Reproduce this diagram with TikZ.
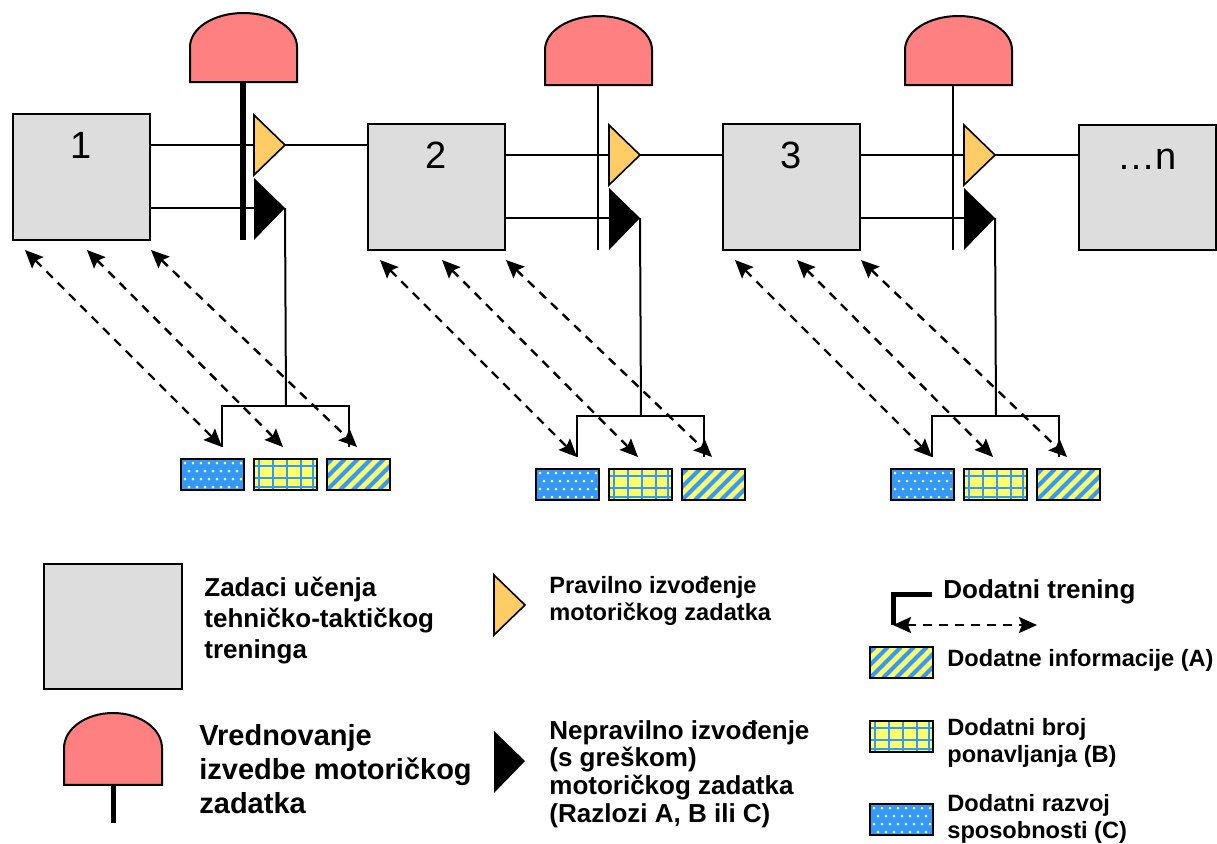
\documentclass[tikz,border=0pt]{standalone}
\usepackage{fontspec}
\setmainfont{Liberation Sans}
\usetikzlibrary{positioning,arrows.meta}

\definecolor{taskgray}{RGB}{221,221,221}
\definecolor{evalred}{RGB}{255,128,128}
\definecolor{okorange}{RGB}{255,204,102}
\definecolor{patblue}{RGB}{51,153,255}
\definecolor{patyellow}{RGB}{255,255,102}

\tikzset{
  task/.style={draw, line width=1.2pt, fill=taskgray, minimum width=68.5pt,
    minimum height=63pt, inner sep=0pt},
  tasklabel/.style={anchor=base, yshift=-23pt, font=\fontsize{19}{22}\selectfont},
  link/.style={line width=1pt},
  retry/.style={line width=1.2pt, dash pattern=on 4.5pt off 3.5pt,
    {Stealth[length=9pt,width=8pt,inset=1.5pt]}-{Stealth[length=9pt,width=8pt,inset=1.5pt]}},
  legtext/.style={anchor=base west, align=left, inner sep=0pt},
  pics/dome/.style={code={
    \filldraw[fill=evalred, line width=1pt] (0,69) -- (0,34)
      .. controls (0,15) and (24,0) .. (53.5,0)
      .. controls (83,0) and (107,15) .. (107,34) -- (107,69) -- cycle;
  }},
  pics/okmark/.style={code={
    \filldraw[fill=okorange, line width=0.8pt] (0,0) -- (31,30) -- (0,60) -- cycle;
  }},
  pics/badmark/.style={code={
    \fill (0,0) -- (31,30) -- (0,62) -- cycle;
  }},
  pics/dotcell/.style={code={
    \fill[patblue] (0,0) rectangle (63,31);
    \begin{scope}
      \clip (0,0) rectangle (63,31);
      \foreach \i in {0,...,7}
        \foreach \j in {0,...,3}
          \fill[patyellow] ({4+8*\i+4*mod(\j,2)},{4+8*\j}) circle (0.75pt);
    \end{scope}
    \draw[line width=1.2pt] (0,0) rectangle (63,31);
  }},
  pics/gridcell/.style={code={
    \fill[patyellow] (0,0) rectangle (63,31);
    \foreach \gx in {5,19,33,47,59}
      \draw[patblue, line width=1pt] (\gx,0) -- (\gx,31);
    \foreach \gy in {7,19,28}
      \draw[patblue, line width=1pt] (0,\gy) -- (63,\gy);
    \draw[line width=1.2pt] (0,0) rectangle (63,31);
  }},
  pics/stripecell/.style={code={
    \fill[patyellow] (0,0) rectangle (63,31);
    \begin{scope}
      \clip (0,0) rectangle (63,31);
      \foreach \k in {-39,-26,...,72}
        \draw[patblue, line width=2.1pt] (\k,31) -- (\k+31,0);
    \end{scope}
    \draw[line width=1.2pt] (0,0) rectangle (63,31);
  }},
}

\begin{document}
\begin{tikzpicture}[x=0.5pt, y=-0.5pt]
\useasboundingbox (0,0) rectangle (1217,843);

% task modules
\foreach \m/\dx/\dy/\sw in {1/0/0/3pt, 2/355/10/1pt, 3/710/10/1pt}{
  \begin{scope}[shift={(\dx,\dy)}]
    \node[task, label={[tasklabel]north:\m}] (box\m) at (81.5,177) {};
    \coordinate (okin\m) at (254,145);
    \coordinate (ok\m) at (285,145);
    \coordinate (badin\m) at (254,208);
    \coordinate (bad\m) at (285,208);
    \coordinate (fork\m) at (286,406);
    \coordinate (dropA\m) at (222,447);
    \coordinate (dropC\m) at (349,447);
    \draw[link] (box\m.east |- okin\m) -- (okin\m);
    \draw[link] (box\m.east |- badin\m) -- (badin\m);
    \draw[line width=\sw] (243,60) -- (243,240);
    \pic at (254,115) {okmark};
    \pic at (254,178) {badmark};
    \draw[link] (bad\m) -- (fork\m);
    \draw[link] (dropA\m) |- (fork\m) -| (dropC\m);
    % extra training
    \foreach \sx/\ex in {25/222, 87/283, 151/357}
      \draw[retry] (\sx,250) -- (\ex,447);
    \pic at (181,459) {dotcell};
    \pic at (254,459) {gridcell};
    \pic at (327,459) {stripecell};
  \end{scope}
}

\node[task, minimum height=62.5pt, label={[tasklabel]north:…n}] (boxn) at (1147.5,187.5) {};

\draw[link] (ok1) -- (ok1 -| box2.west);
\draw[link] (ok2) -- (ok2 -| box3.west);
\draw[link] (ok3) -- (ok3 -| boxn.west);

% evaluation
\pic at (190,13) {dome};
\pic at (545,16) {dome};
\pic at (905,16) {dome};

% legend
\node[task, minimum height=62.5pt, minimum width=69pt] (legtask) at (113,626.5) {};
\node[legtext, font=\bfseries\fontsize{13}{15.5}\selectfont] (legtasktxt) at (204,658)
  {Zadaci učenja\\tehničko-taktičkog\\treninga};

\draw[line width=2.5pt] (113,760) -- (113,823);
\pic[xscale=0.916, yscale=1.04] at (64,713) {dome};
\node[legtext, font=\bfseries\fontsize{14.5}{17}\selectfont] (legevaltxt) at (199,813)
  {Vrednovanje\\izvedbe motoričkog\\zadatka};

\pic at (494,575) {okmark};
\node[legtext, font=\bfseries\fontsize{11.8}{13.5}\selectfont] (legoktxt) at (549,620)
  {Pravilno izvođenje\\motoričkog zadatka};

\pic at (494,731) {badmark};
\node[legtext, font=\bfseries\fontsize{13}{13.8}\selectfont] (legbadtxt) at (549,822)
  {Nepravilno izvođenje\\(s greškom)\\motoričkog zadatka\\(Razlozi A, B ili C)};

\coordinate (legbar) at (932,594);
\coordinate (legleft) at (893,625);
\coordinate (legright) at (1037,625);
\draw[line width=2.5pt] (legbar) -| (legleft);
\draw[retry] (legleft) -- (legright);
\node[legtext, font=\bfseries\fontsize{13}{15}\selectfont] (legtraintxt) at (943,598)
  {Dodatni trening};

\pic at (870,647) {stripecell};
\node[legtext, font=\bfseries\fontsize{11.8}{13.5}\selectfont] (legAtxt) at (947,666)
  {Dodatne informacije (A)};
\pic at (870,721) {gridcell};
\node[legtext, font=\bfseries\fontsize{11.8}{13.5}\selectfont] (legBtxt) at (947,762)
  {Dodatni broj\\ponavljanja (B)};
\pic at (870,804) {dotcell};
\node[legtext, font=\bfseries\fontsize{11.8}{13.5}\selectfont] (legCtxt) at (947,838)
  {Dodatni razvoj\\sposobnosti (C)};

\end{tikzpicture}
\end{document}
